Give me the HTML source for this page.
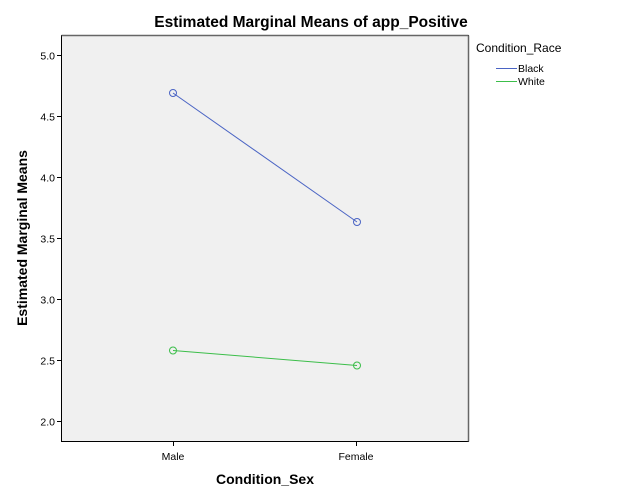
<!DOCTYPE html>
<html><head><meta charset="utf-8"><style>body{margin:0;background:#fff}svg{display:block}</style></head><body>
<svg width="626" height="501" xmlns="http://www.w3.org/2000/svg" font-family="Liberation Sans, Arial, sans-serif">
<rect x="0" y="0" width="626" height="501" fill="#fff"/>
<text x="311" y="27" text-anchor="middle" font-size="15.5" font-weight="bold">Estimated Marginal Means of app_Positive</text>
<rect x="61.5" y="35.5" width="407" height="406" fill="#f0f0f0" stroke="#000" stroke-width="1"/>
<line x1="61.5" y1="35.5" x2="468.5" y2="35.5" stroke="#666" stroke-width="1.5"/>
<line x1="468.5" y1="35.5" x2="468.5" y2="441.5" stroke="#666" stroke-width="1.5"/>
<g stroke="#000" stroke-width="1">
<line x1="57" y1="55.5" x2="61" y2="55.5"/><line x1="57" y1="116.5" x2="61" y2="116.5"/>
<line x1="57" y1="177.5" x2="61" y2="177.5"/><line x1="57" y1="238.5" x2="61" y2="238.5"/>
<line x1="57" y1="299.5" x2="61" y2="299.5"/><line x1="57" y1="360.5" x2="61" y2="360.5"/>
<line x1="57" y1="421.5" x2="61" y2="421.5"/>
<line x1="173.5" y1="442" x2="173.5" y2="446"/><line x1="356.5" y1="442" x2="356.5" y2="446"/>
</g>
<g font-size="10.5" text-anchor="end">
<text x="55" y="59.5">5.0</text><text x="55" y="120.5">4.5</text><text x="55" y="181.5">4.0</text>
<text x="55" y="242.5">3.5</text><text x="55" y="303.5">3.0</text><text x="55" y="364.5">2.5</text><text x="55" y="425.5">2.0</text>
</g>
<g font-size="10.5" text-anchor="middle">
<text x="173" y="460">Male</text><text x="356" y="460">Female</text>
</g>
<text x="265" y="484" text-anchor="middle" font-size="14" font-weight="bold">Condition_Sex</text>
<text transform="translate(27,238) rotate(-90)" text-anchor="middle" font-size="14" font-weight="bold">Estimated Marginal Means</text>
<line x1="173" y1="93" x2="357" y2="222" stroke="#4a64c4" stroke-width="1"/>
<circle cx="173" cy="93" r="3.5" fill="none" stroke="#4a64c4"/>
<circle cx="357" cy="222" r="3.5" fill="none" stroke="#4a64c4"/>
<line x1="173" y1="350.5" x2="357" y2="365.5" stroke="#3cbe4a" stroke-width="1"/>
<circle cx="173" cy="350.5" r="3.5" fill="none" stroke="#3cbe4a"/>
<circle cx="357" cy="365.5" r="3.5" fill="none" stroke="#3cbe4a"/>
<text x="476" y="52" font-size="12">Condition_Race</text>
<line x1="496" y1="68.5" x2="517" y2="68.5" stroke="#4a64c4"/>
<line x1="496" y1="81.5" x2="517" y2="81.5" stroke="#3cbe4a"/>
<text x="518" y="72" font-size="10.5">Black</text>
<text x="518" y="85" font-size="10.5">White</text>
</svg>
</body></html>
